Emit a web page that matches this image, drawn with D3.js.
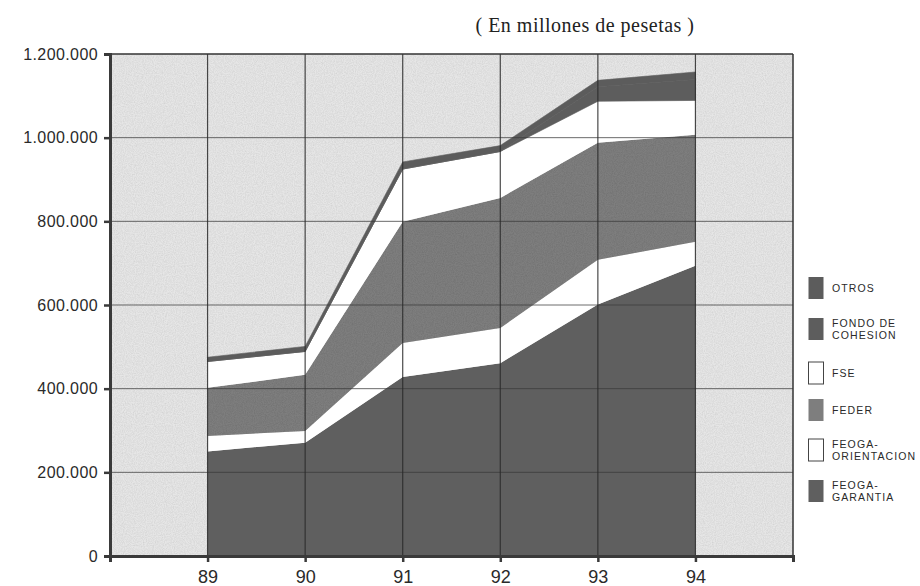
<!DOCTYPE html>
<html>
<head>
<meta charset="utf-8">
<script src="https://cdn.jsdelivr.net/npm/d3@7"></script>
<style>
  html, body { margin: 0; padding: 0; background: #ffffff; }
  svg { display: block; }
</style>
</head>
<body>
<svg id="chart" width="920" height="586"></svg>
<script>
// ---- data (millones de pesetas) ----
const years = [89, 90, 91, 92, 93, 94];
const feogaGarantia    = [250000, 271000, 428000, 461000, 601000, 694000];
const feogaOrientacion = [37000, 28000, 81000, 84000, 107000, 57000];
const feder            = [115000, 134000, 290000, 311000, 280000, 256000];
const fse              = [63000, 56000, 126000, 111000, 99000, 82000];
const fondoCohesion    = [0, 0, 0, 0, 35000, 50000];
const otros            = [10000, 12000, 17000, 14000, 15000, 18000];
const yTicks = [0, 200000, 400000, 600000, 800000, 1000000, 1200000];
const xTicks = [89, 90, 91, 92, 93, 94];
const seriesKeys   = ["garantia", "orientacion", "feder", "fse", "cohesion", "otros"];
const legendOrder  = ["otros", "cohesion", "fse", "feder", "orientacion", "garantia"];
const legendLabels = {
  otros: ["OTROS"],
  cohesion: ["FONDO DE", "COHESION"],
  fse: ["FSE"],
  feder: ["FEDER"],
  orientacion: ["FEOGA-", "ORIENTACION"],
  garantia: ["FEOGA-", "GARANTIA"]
};
const title = "( En millones de pesetas )";

// ---- styles ----
const fills = {
  garantia: "#5f5f5f",
  orientacion: "#ffffff",
  feder: "#7e7e7e",
  fse: "#ffffff",
  cohesion: "#5d5d5d",
  otros: "#5c5c5c"
};

const rows = years.map((yr, i) => ({
  year: yr,
  garantia: feogaGarantia[i],
  orientacion: feogaOrientacion[i],
  feder: feder[i],
  fse: fse[i],
  cohesion: fondoCohesion[i],
  otros: otros[i]
}));

const svg = d3.select("#chart");
const pL = 110, pR = 793, pT = 54, pB = 556;

const x = d3.scaleLinear().domain([88, 95]).range([pL, pR]);
const y = d3.scaleLinear().domain([0, 1200000]).range([pB, pT]);

const locale = d3.formatLocale({decimal: ",", thousands: ".", grouping: [3], currency: ["", ""]});
const fmt = locale.format(",");

// texture filter
const defs = svg.append("defs");
const f = defs.append("filter").attr("id", "noise").attr("x", 0).attr("y", 0).attr("width", 1).attr("height", 1);
f.append("feTurbulence").attr("type", "fractalNoise").attr("baseFrequency", 0.9).attr("numOctaves", 2).attr("seed", 4).attr("result", "t");
f.append("feColorMatrix").attr("in", "t").attr("type", "matrix")
  .attr("values", "0 0 0 0 0  0 0 0 0 0  0 0 0 0 0  0 0 0 -1.1 0.75").attr("result", "n");
f.append("feComposite").attr("in", "n").attr("in2", "SourceGraphic").attr("operator", "in");

// background
svg.append("rect").attr("x", pL).attr("y", pT).attr("width", pR - pL).attr("height", pB - pT)
  .attr("fill", "#e6e6e6");
svg.append("rect").attr("x", pL).attr("y", pT).attr("width", pR - pL).attr("height", pB - pT)
  .attr("fill", "#000").attr("opacity", 0.12).attr("filter", "url(#noise)");

// stacked areas
const stack = d3.stack().keys(seriesKeys);
const layers = stack(rows);
const area = d3.area()
  .x(d => x(d.data.year))
  .y0(d => y(d[0]))
  .y1(d => y(d[1]));

svg.append("g").selectAll("path").data(layers).join("path")
  .attr("d", area)
  .attr("fill", d => fills[d.key])
  .attr("stroke", d => (d.key === "cohesion" || d.key === "otros") ? fills[d.key] : "none")
  .attr("stroke-width", 0.6);

// texture over the grey FEDER band
svg.append("path").datum(layers.find(l => l.key === "feder"))
  .attr("d", area).attr("fill", "#000").attr("opacity", 0.15).attr("filter", "url(#noise)");

// grid lines (drawn over)
const grid = svg.append("g");
grid.selectAll("line.h").data(yTicks.slice(1, -1)).join("line")
  .attr("x1", pL).attr("x2", pR).attr("y1", d => y(d)).attr("y2", d => y(d))
  .attr("stroke", "#3a3a3a").attr("stroke-width", 1).attr("opacity", 0.75);
grid.selectAll("line.v").data(xTicks).join("line")
  .attr("y1", pT).attr("y2", pB).attr("x1", d => x(d)).attr("x2", d => x(d))
  .attr("stroke", "#2a2a2a").attr("stroke-width", 1.2).attr("opacity", 0.85);

// frame
svg.append("line").attr("x1", pL).attr("x2", pR).attr("y1", pT).attr("y2", pT)
  .attr("stroke", "#333").attr("stroke-width", 1.3);
svg.append("line").attr("x1", pR).attr("x2", pR).attr("y1", pT).attr("y2", pB)
  .attr("stroke", "#333").attr("stroke-width", 1.5);

// axes
const yAxis = d3.axisLeft(y).tickValues(yTicks).tickFormat(fmt).tickSize(6).tickPadding(6);
const gy = svg.append("g").attr("transform", `translate(${pL},0)`).call(yAxis);
gy.select(".domain").attr("stroke", "#3a3a3a").attr("stroke-width", 3);
gy.selectAll(".tick line").attr("stroke", "#3a3a3a").attr("stroke-width", 2.5);
gy.selectAll(".tick text").attr("font-family", "Liberation Sans, Arial, sans-serif")
  .attr("font-size", 16).attr("fill", "#2a2a2a").attr("letter-spacing", 0.4);

const xAxis = d3.axisBottom(x).tickValues([88, 89, 90, 91, 92, 93, 94, 95])
  .tickFormat(d => xTicks.includes(d) ? String(d) : "").tickSize(6).tickPadding(8);
const gx = svg.append("g").attr("transform", `translate(0,${pB})`).call(xAxis);
gx.select(".domain").attr("stroke", "#3a3a3a").attr("stroke-width", 3);
gx.selectAll(".tick line").attr("stroke", "#3a3a3a").attr("stroke-width", 2.5);
gx.selectAll(".tick text").attr("font-family", "Liberation Sans, Arial, sans-serif")
  .attr("font-size", 18).attr("fill", "#2a2a2a");

// title
svg.append("text").attr("x", 585).attr("y", 32).attr("text-anchor", "middle")
  .attr("font-family", "Liberation Serif, Times New Roman, serif").attr("font-size", 20)
  .attr("fill", "#222").attr("letter-spacing", 0.5).text(title);

// legend
const legendY = {otros: 288, cohesion: 329, fse: 373, feder: 410, orientacion: 450, garantia: 491};
const lg = svg.append("g");
legendOrder.forEach(k => {
  const cy = legendY[k];
  lg.append("rect").attr("x", 808.5).attr("y", cy - 11).attr("width", 15).attr("height", 22)
    .attr("fill", fills[k]).attr("stroke", fills[k] === "#ffffff" ? "#444" : "none").attr("stroke-width", 1);
  const lines = legendLabels[k];
  lines.forEach((t, i) => {
    lg.append("text").attr("x", 832).attr("y", cy + 4 + (i - (lines.length - 1) / 2) * 12)
      .attr("font-family", "Liberation Sans, Arial, sans-serif").attr("font-size", 10.5)
      .attr("letter-spacing", 1.1)
      .attr("fill", "#2a2a2a").text(t);
  });
});
</script>
</body>
</html>
